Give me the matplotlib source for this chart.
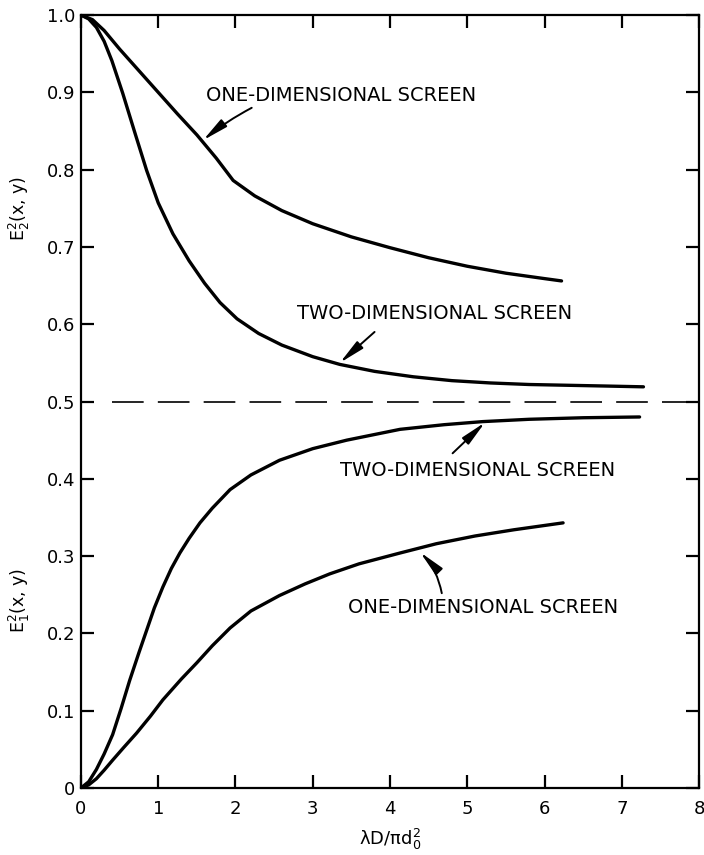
import matplotlib
matplotlib.use("Agg")
import matplotlib.pyplot as plt

plt.rcParams['font.family'] = 'DejaVu Sans'
plt.rcParams['mathtext.default'] = 'regular'

# upper curves, E2^2(x, y)
x_one_e2 = [0, 0.15, 0.3, 0.5, 0.75, 1.0, 1.25, 1.5, 1.75, 1.97, 2.25, 2.6,
            3.0, 3.5, 4.0, 4.5, 5.0, 5.5, 6.0, 6.22]
y_one_e2 = [1.0, 0.994, 0.980, 0.956, 0.928, 0.900, 0.872, 0.845, 0.815, 0.786,
            0.766, 0.747, 0.730, 0.713, 0.699, 0.686, 0.675, 0.666, 0.659, 0.656]

x_two_e2 = [0, 0.1, 0.2, 0.3, 0.4, 0.54, 0.7, 0.85, 1.0, 1.19, 1.4, 1.6, 1.8,
            2.02, 2.3, 2.6, 3.0, 3.35, 3.8, 4.3, 4.8, 5.3, 5.8, 6.3, 6.8, 7.28]
y_two_e2 = [1.0, 0.995, 0.984, 0.966, 0.941, 0.899, 0.847, 0.799, 0.757, 0.717,
            0.682, 0.653, 0.628, 0.607, 0.588, 0.573, 0.558, 0.548, 0.539, 0.532,
            0.527, 0.524, 0.522, 0.521, 0.520, 0.519]

# lower curves, E1^2(x, y)
x_two_e1 = [0, 0.1, 0.2, 0.3, 0.41, 0.52, 0.63, 0.75, 0.85, 0.95, 1.06, 1.17,
            1.28, 1.4, 1.54, 1.7, 1.93, 2.2, 2.57, 3.0, 3.44, 4.13, 4.7, 5.2,
            5.8, 6.5, 7.23]
y_two_e1 = [0, 0.008, 0.024, 0.044, 0.069, 0.103, 0.139, 0.175, 0.204, 0.233,
            0.260, 0.284, 0.304, 0.323, 0.343, 0.362, 0.386, 0.405, 0.424, 0.439,
            0.450, 0.464, 0.470, 0.474, 0.477, 0.479, 0.480]

x_one_e1 = [0, 0.1, 0.2, 0.3, 0.41, 0.55, 0.72, 0.9, 1.06, 1.3, 1.5, 1.7, 1.93,
            2.2, 2.57, 2.9, 3.22, 3.6, 4.13, 4.6, 5.1, 5.6, 6.24]
y_one_e1 = [0, 0.004, 0.012, 0.023, 0.036, 0.052, 0.071, 0.093, 0.114, 0.141,
            0.162, 0.184, 0.207, 0.229, 0.249, 0.264, 0.277, 0.290, 0.304, 0.316,
            0.326, 0.334, 0.343]

asymptote = 0.5

x_ticks = [0, 1, 2, 3, 4, 5, 6, 7, 8]
y_ticks = [0, 0.1, 0.2, 0.3, 0.4, 0.5, 0.6, 0.7, 0.8, 0.9, 1.0]
y_ticklabels = ['0', '0.1', '0.2', '0.3', '0.4', '0.5', '0.6', '0.7', '0.8', '0.9', '1.0']

# label text, text position, arrow tail, arrow tip, arc
notes = [
    ('ONE-DIMENSIONAL SCREEN', (1.62, 0.896), (2.21, 0.880), (1.58, 0.838), 0.05),
    ('TWO-DIMENSIONAL SCREEN', (2.79, 0.614), (3.80, 0.590), (3.35, 0.550), 0.0),
    ('TWO-DIMENSIONAL SCREEN', (3.35, 0.411), (4.81, 0.433), (5.23, 0.473), 0.0),
    ('ONE-DIMENSIONAL SCREEN', (3.45, 0.233), (4.67, 0.252), (4.39, 0.305), 0.15),
]

fig = plt.figure(figsize=(7.04, 8.55), dpi=100)
ax = fig.add_axes([0.115, 0.0784, 0.878, 0.904])

for xs, ys in [(x_one_e2, y_one_e2), (x_two_e2, y_two_e2),
               (x_two_e1, y_two_e1), (x_one_e1, y_one_e1)]:
    ax.plot(xs, ys, color='black', lw=2.4, solid_capstyle='round',
            solid_joinstyle='round')

ax.axhline(asymptote, xmin=0.05, xmax=1.0, color='black', lw=1.2,
           dashes=(19, 8.5))

for label, tpos, tail, tip, rad in notes:
    ax.text(tpos[0], tpos[1], label, fontsize=14, ha='left', va='center')
    ax.annotate('', xy=tip, xytext=tail,
                arrowprops=dict(arrowstyle='-|>,head_length=1.1,head_width=0.2',
                                connectionstyle='arc3,rad=%s' % rad,
                                color='black', lw=1.4, mutation_scale=14,
                                shrinkA=0, shrinkB=0))

ax.set_xlim(0, 8)
ax.set_ylim(0, 1.0)
ax.set_xticks(x_ticks)
ax.set_yticks(y_ticks)
ax.set_yticklabels(y_ticklabels)
ax.tick_params(direction='in', length=9.5, width=1.6, top=True, right=True,
               labelsize=13)
ax.tick_params(axis='x', pad=9)
ax.tick_params(axis='y', pad=4)
for s in ax.spines.values():
    s.set_linewidth(1.6)

ax.set_xlabel(r'$\lambda$D/$\pi$d$_0^2$', fontsize=13, labelpad=6)
ax.text(-0.79, 0.75, r'E$_2^2$(x, y)', rotation=90, fontsize=12.5,
        ha='center', va='center')
ax.text(-0.79, 0.243, r'E$_1^2$(x, y)', rotation=90, fontsize=12.5,
        ha='center', va='center')

fig.savefig('out.png', dpi=100)
